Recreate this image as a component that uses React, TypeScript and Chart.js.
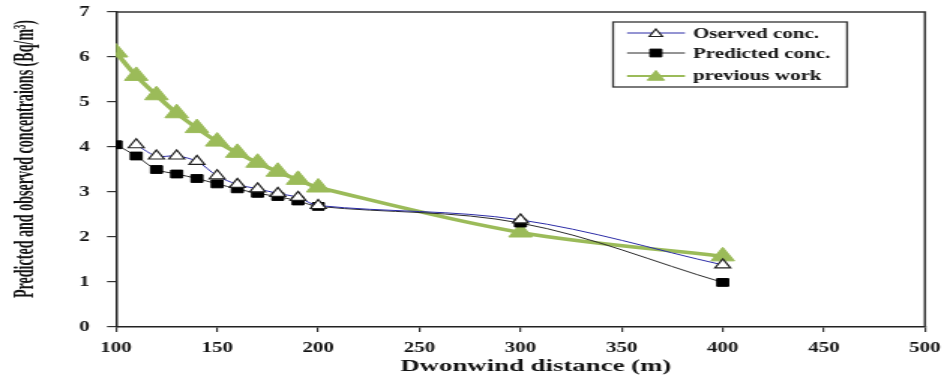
import React, { useEffect, useRef } from "react";
import { Chart, registerables } from "chart.js";

Chart.register(...registerables);

// ---- data ----
const predictedDistances = [100, 110, 120, 130, 140, 150, 160, 170, 180, 190, 200, 300, 400];
const predictedConc = [4.05, 3.8, 3.5, 3.4, 3.3, 3.18, 3.07, 2.97, 2.9, 2.8, 2.68, 2.31, 0.99];
const observedDistances = [110, 120, 130, 140, 150, 160, 170, 180, 190, 200, 300, 400];
const observedConc = [4.05, 3.8, 3.8, 3.68, 3.36, 3.17, 3.07, 2.97, 2.88, 2.7, 2.38, 1.38];
const previousDistances = [100, 110, 120, 130, 140, 150, 160, 170, 180, 190, 200, 300, 400];
const previousConc = [6.1, 5.58, 5.15, 4.75, 4.42, 4.12, 3.87, 3.65, 3.45, 3.27, 3.1, 2.1, 1.57];

const seriesNames = ["Oserved conc.", "Predicted conc.", "previous work"];
const xTitle = "Dwonwind distance (m)";
const yTitle = "Predicted and observed concentraions (Bq/m\u00B3)";
const xMin = 100, xMax = 500, xStep = 50;
const yMin = 0, yMax = 7, yStep = 1;

// ---- styling ----
const STRETCH = 947 / 631; // the reference is horizontally stretched
const SERIF = "'Liberation Serif', 'Times New Roman', serif";
const TEXT = "#141414";
const GREEN = "#9bbb59";
const BLUE = "#2b2ba6";

const toXY = (xs: number[], ys: number[]) => xs.map((x, i) => ({ x, y: ys[i] }));

function markerPath(ctx: CanvasRenderingContext2D, style: string, x: number, y: number, r: number) {
  ctx.beginPath();
  if (style === "triangle") {
    ctx.moveTo(x, y - r);
    ctx.lineTo(x + r * 0.866, y + r * 0.5);
    ctx.lineTo(x - r * 0.866, y + r * 0.5);
    ctx.closePath();
  } else {
    const s = r * Math.SQRT1_2;
    ctx.rect(x - s, y - s, 2 * s, 2 * s);
  }
}

const decorPlugin = {
  id: "decor",
  afterDraw(chart: any) {
    const ctx: CanvasRenderingContext2D = chart.ctx;
    const { left, right, top, bottom } = chart.chartArea;
    ctx.save();
    // top and right frame lines
    ctx.strokeStyle = "#333";
    ctx.lineWidth = 1.5;
    ctx.beginPath();
    ctx.moveTo(left, top);
    ctx.lineTo(right, top);
    ctx.lineTo(right, bottom);
    ctx.stroke();

    // x title
    ctx.fillStyle = TEXT;
    ctx.font = `bold 17px ${SERIF}`;
    ctx.textAlign = "center";
    ctx.textBaseline = "alphabetic";
    {
      const w = ctx.measureText(xTitle).width;
      const target = 271 / STRETCH;
      ctx.save();
      ctx.translate(357, 371);
      ctx.scale(target / w, 1);
      ctx.fillText(xTitle, 0, 0);
      ctx.restore();
    }

    // y title
    ctx.font = `bold 19px ${SERIF}`;
    {
      const w = ctx.measureText(yTitle).width;
      const target = 278;
      ctx.save();
      ctx.translate(22, 159);
      ctx.rotate(-Math.PI / 2);
      ctx.scale(target / w, 1);
      ctx.fillText(yTitle, 0, 0);
      ctx.restore();
    }

    // legend
    const bx = 408.5, by = 22, bw = 564.4 - 408.5, bh = 65;
    ctx.fillStyle = "#fff";
    ctx.fillRect(bx, by, bw, bh);
    ctx.strokeStyle = "#333";
    ctx.lineWidth = 1.3;
    ctx.strokeRect(bx, by, bw, bh);
    const rows = [
      { line: 33, base: 37.5 },
      { line: 53, base: 57.5 },
      { line: 76, base: 80 },
    ];
    chart.data.datasets.forEach((ds: any, i: number) => {
      const r = rows[i];
      ctx.strokeStyle = ds.borderColor;
      ctx.lineWidth = i === 2 ? 2 : 1;
      ctx.beginPath();
      ctx.moveTo(417.8, r.line);
      ctx.lineTo(456.4, r.line);
      ctx.stroke();
      const style = ds.pointStyle;
      const rad = i === 0 ? 5 : i === 1 ? 5.5 : 6.5;
      markerPath(ctx, style, 437, r.line + (style === "triangle" ? 1 : 0), rad);
      ctx.fillStyle = ds.pointBackgroundColor;
      ctx.fill();
      ctx.strokeStyle = ds.pointBorderColor;
      ctx.lineWidth = ds.pointBorderWidth;
      ctx.stroke();
      ctx.fillStyle = TEXT;
      ctx.font = `bold 14px ${SERIF}`;
      ctx.textAlign = "left";
      ctx.textBaseline = "alphabetic";
      ctx.fillText(ds.label, 461.7, r.base);
    });
    ctx.restore();
  },
};

export default function App() {
  const canvasRef = useRef<HTMLCanvasElement | null>(null);

  useEffect(() => {
    document.body.style.margin = "0";
    const canvas = canvasRef.current;
    if (!canvas) return;
    const chart = new Chart(canvas, {
      type: "line",
      data: {
        datasets: [
          {
            label: seriesNames[0],
            data: toXY(observedDistances, observedConc),
            borderColor: BLUE,
            borderWidth: 1,
            pointStyle: "triangle",
            pointRadius: 6,
            pointBackgroundColor: "#ffffff",
            pointBorderColor: "#222222",
            pointBorderWidth: 1.2,
            tension: 0.35,
            order: 1,
          },
          {
            label: seriesNames[1],
            data: toXY(predictedDistances, predictedConc),
            borderColor: "#2a2a2a",
            borderWidth: 1,
            pointStyle: "rect",
            pointRadius: 5.5,
            pointBackgroundColor: "#000000",
            pointBorderColor: "#000000",
            pointBorderWidth: 1,
            tension: 0.35,
            order: 2,
          },
          {
            label: seriesNames[2],
            data: toXY(previousDistances, previousConc),
            borderColor: GREEN,
            borderWidth: 3.5,
            pointStyle: "triangle",
            pointRadius: 9,
            pointBackgroundColor: GREEN,
            pointBorderColor: GREEN,
            pointBorderWidth: 1,
            tension: 0.35,
            order: 3,
          },
        ] as any,
      },
      options: {
        animation: false,
        responsive: true,
        maintainAspectRatio: false,
        devicePixelRatio: 1,
        layout: { padding: { top: 12, right: 14.7, left: 0, bottom: 0 } },
        plugins: {
          legend: { display: false },
          tooltip: { enabled: false },
          title: { display: false },
        },
        elements: { point: { hoverRadius: 0 } },
        scales: {
          x: {
            type: "linear",
            min: xMin,
            max: xMax,
            ticks: {
              stepSize: xStep,
              color: TEXT,
              font: { family: SERIF, size: 14, weight: "bold", lineHeight: 1.85 },
              padding: 3,
              maxRotation: 0,
            },
            grid: { display: true, drawOnChartArea: false, drawTicks: true, tickLength: 5, color: "#333", lineWidth: 1.2 },
            border: { display: true, color: "#222", width: 1.5 },
            afterFit: (scale: any) => {
              scale.height = 51;
            },
          },
          y: {
            type: "linear",
            min: yMin,
            max: yMax,
            ticks: {
              stepSize: yStep,
              color: TEXT,
              font: { family: SERIF, size: 14, weight: "bold", lineHeight: 0.01 },
              padding: 11.5,
            },
            grid: { display: true, drawOnChartArea: false, drawTicks: true, tickLength: 6, color: "#333", lineWidth: 1.2 },
            border: { display: true, color: "#222", width: 1.5 },
            afterFit: (scale: any) => {
              scale.width = 77.3;
            },
          },
        },
      } as any,
      plugins: [decorPlugin],
    });
    return () => chart.destroy();
  }, []);

  return (
    <div style={{ position: "absolute", left: 0, top: 0, width: 947, height: 378, overflow: "hidden", background: "#fff" }}>
      <div
        style={{
          position: "relative",
          width: 631,
          height: 378,
          transform: `scaleX(${STRETCH})`,
          transformOrigin: "0 0",
        }}
      >
        <canvas ref={canvasRef} />
      </div>
    </div>
  );
}
